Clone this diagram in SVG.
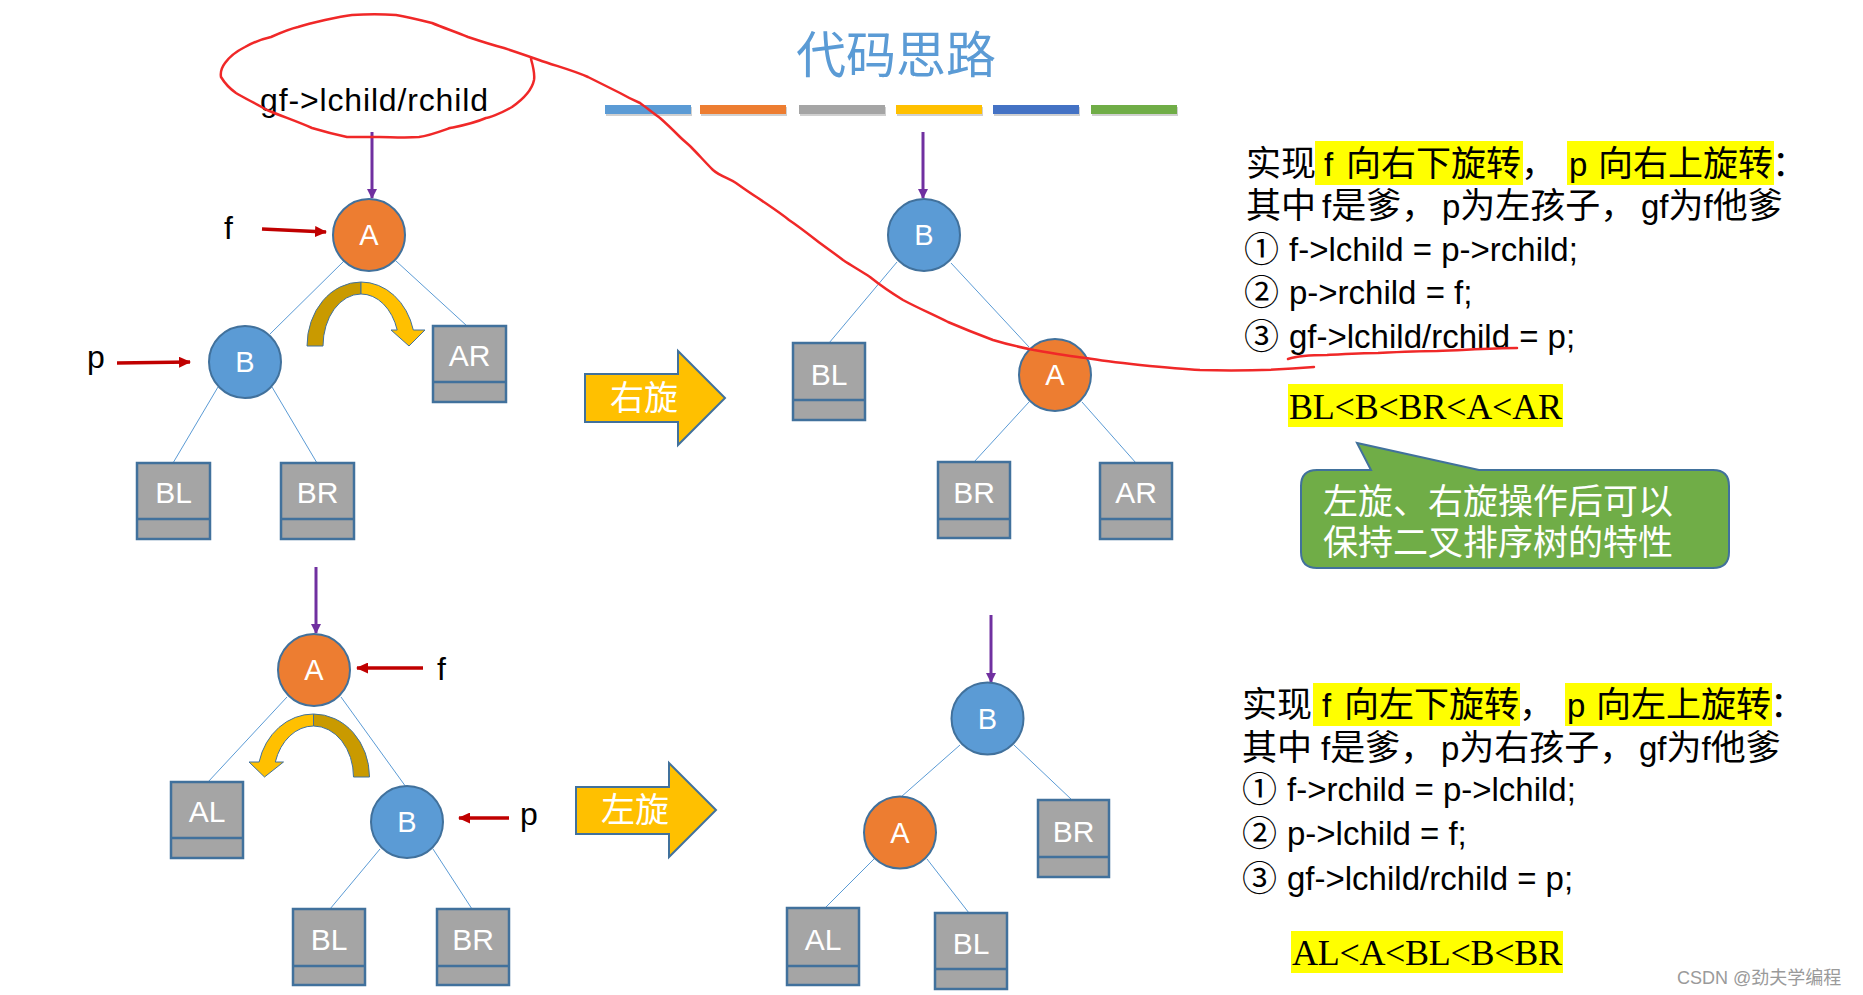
<svg xmlns="http://www.w3.org/2000/svg" width="1863" height="995" viewBox="0 0 1863 995">
<defs>
<marker id="mp" markerWidth="10" markerHeight="10" refX="9" refY="5" orient="auto" markerUnits="userSpaceOnUse"><path d="M0,0 L10,5 L0,10 Z" fill="#7030A0"/></marker>
<marker id="mr" markerWidth="12" markerHeight="11" refX="11" refY="5.5" orient="auto" markerUnits="userSpaceOnUse"><path d="M0,0 L12,5.5 L0,11 Z" fill="#C00000"/></marker>
<style>
.circA{fill:#ED7D31;stroke:#41719C;stroke-width:2}
.circB{fill:#5B9BD5;stroke:#41719C;stroke-width:2}
.box{fill:#A5A5A5;stroke:#41719C;stroke-width:2.5}
.nl{font-family:"Liberation Sans","Open Sans",sans-serif;fill:#fff;text-anchor:middle}
.edge{stroke:#5B9BD5;stroke-width:1;fill:none}
.pa{stroke:#7030A0;stroke-width:3;fill:none;marker-end:url(#mp)}
.ra{stroke:#C00000;stroke-width:3.5;fill:none;marker-end:url(#mr)}
.lab{font-family:"Liberation Sans",sans-serif;font-size:32px;fill:#000}
.tx{font-family:"Liberation Sans","Noto Sans CJK SC",sans-serif;font-size:33px;fill:#000}
.cj{font-family:"Noto Sans CJK SC",sans-serif;font-size:35px;fill:#000}
.hl{fill:#FFFF00}
.ser{font-family:"Liberation Serif",serif;font-size:36px;fill:#000}
.dk{fill:#C99A00;stroke:#41719C;stroke-width:1}
.yl{fill:#FFC000;stroke:#41719C;stroke-width:1}
.bigarrow{fill:#FFC000;stroke:#41719C;stroke-width:2}
.red{stroke:#F02828;stroke-width:2.5;fill:none;stroke-linecap:round;stroke-linejoin:round}
</style>
</defs>
<rect width="1863" height="995" fill="#fff"/>

<!-- title -->
<g id="title">
<text x="896" y="73" font-family="Noto Sans CJK SC,sans-serif" font-size="50" fill="#5B9BD5" text-anchor="middle">代码思路</text>
<g fill="#d0d0d0"><rect x="606" y="107" width="86" height="9"/><rect x="701" y="107" width="86" height="9"/><rect x="800" y="107" width="86" height="9"/><rect x="897" y="107" width="86" height="9"/><rect x="994" y="107" width="86" height="9"/><rect x="1092" y="107" width="86" height="9"/></g>
<rect x="605" y="105" width="86" height="9" fill="#5B9BD5"/>
<rect x="700" y="105" width="86" height="9" fill="#ED7D31"/>
<rect x="799" y="105" width="86" height="9" fill="#A5A5A5"/>
<rect x="896" y="105" width="86" height="9" fill="#FFC000"/>
<rect x="993" y="105" width="86" height="9" fill="#4472C4"/>
<rect x="1091" y="105" width="86" height="9" fill="#70AD47"/>
</g>

<!-- connectors -->
<g id="connectors">
<line class="edge" x1="345" y1="260" x2="270" y2="334"/>
<line class="edge" x1="396" y1="261" x2="467" y2="326"/>
<line class="edge" x1="218" y1="387" x2="173" y2="463"/>
<line class="edge" x1="272" y1="387" x2="317" y2="463"/>
<line class="edge" x1="897" y1="262" x2="829" y2="343"/>
<line class="edge" x1="951" y1="263" x2="1029" y2="347"/>
<line class="edge" x1="1029" y1="402" x2="974" y2="462"/>
<line class="edge" x1="1082" y1="402" x2="1136" y2="463"/>
<line class="edge" x1="287" y1="697" x2="208" y2="782"/>
<line class="edge" x1="341" y1="697" x2="406" y2="787"/>
<line class="edge" x1="380" y1="849" x2="330" y2="909"/>
<line class="edge" x1="433" y1="849" x2="472" y2="909"/>
<line class="edge" x1="960" y1="745" x2="901" y2="797"/>
<line class="edge" x1="1014" y1="745" x2="1072" y2="800"/>
<line class="edge" x1="874" y1="859" x2="825" y2="908"/>
<line class="edge" x1="927" y1="859" x2="969" y2="913"/>
<line class="pa" x1="372" y1="132" x2="372" y2="198"/>
<line class="pa" x1="923" y1="132" x2="923" y2="198"/>
<line class="pa" x1="316" y1="567" x2="316" y2="633"/>
<line class="pa" x1="991" y1="615" x2="991" y2="682"/>
<line class="ra" x1="262" y1="229" x2="326" y2="232"/>
<line class="ra" x1="117" y1="363" x2="190" y2="362"/>
<line class="ra" x1="423" y1="668" x2="357" y2="668"/>
<line class="ra" x1="509" y1="818" x2="459" y2="818"/>
</g>

<!-- curved rotation arrows -->
<g id="curl-right">
<path class="dk" d="M307 346 A54 64 0 0 1 361 282 L361 294 A38 52 0 0 0 323 346 Z"/>
<path class="yl" d="M361 282 A54 64 0 0 1 413.3 330 L425 330 L409 346 L391 330 L397.2 330 A38 52 0 0 0 361 294 Z"/>
</g>
<g id="curl-left">
<path class="dk" d="M369.5 777 A56 63 0 0 0 313.5 714 L313.5 726 A40 51 0 0 1 353.5 777 Z"/>
<path class="yl" d="M313.5 714 A56 63 0 0 0 259.1 762 L249 762 L264.5 777 L283.5 762 L275.3 762 A40 51 0 0 1 313.5 726 Z"/>
</g>

<!-- top-left tree -->
<g id="gf-label"><text class="lab" x="260" y="111" textLength="228">gf-&gt;lchild/rchild</text></g>
<g id="f-label-1"><text class="lab" x="224" y="239">f</text></g>
<g id="p-label-1"><text class="lab" x="87" y="368">p</text></g>
<g id="n1-A"><circle class="circA" cx="369" cy="235" r="36"/><text class="nl" x="369" y="245" font-size="29">A</text></g>
<g id="n1-B"><circle class="circB" cx="245" cy="362" r="36"/><text class="nl" x="245" y="372" font-size="29">B</text></g>
<g id="n1-AR"><rect class="box" x="433" y="326" width="73" height="76"/><line x1="433" y1="382" x2="506" y2="382" stroke="#41719C" stroke-width="2.5"/><text class="nl" x="469.5" y="366" font-size="30">AR</text></g>
<g id="n1-BL"><rect class="box" x="137" y="463" width="73" height="76"/><line x1="137" y1="519" x2="210" y2="519" stroke="#41719C" stroke-width="2.5"/><text class="nl" x="173.5" y="503" font-size="30">BL</text></g>
<g id="n1-BR"><rect class="box" x="281" y="463" width="73" height="76"/><line x1="281" y1="519" x2="354" y2="519" stroke="#41719C" stroke-width="2.5"/><text class="nl" x="317.5" y="503" font-size="30">BR</text></g>

<!-- right rotate arrow -->
<g id="rotate-right"><path class="bigarrow" d="M585 374 L678 374 L678 351 L725 398 L678 445 L678 422 L585 422 Z"/><text x="644" y="410" font-family="Noto Sans CJK SC,sans-serif" font-size="34" fill="#fff" text-anchor="middle">右旋</text></g>

<!-- top-right tree -->
<g id="n2-B"><circle class="circB" cx="924" cy="235" r="36"/><text class="nl" x="924" y="245" font-size="29">B</text></g>
<g id="n2-BL"><rect class="box" x="793" y="343" width="72" height="77"/><line x1="793" y1="400" x2="865" y2="400" stroke="#41719C" stroke-width="2.5"/><text class="nl" x="829" y="385" font-size="30">BL</text></g>
<g id="n2-A"><circle class="circA" cx="1055" cy="375" r="36"/><text class="nl" x="1055" y="385" font-size="29">A</text></g>
<g id="n2-BR"><rect class="box" x="938" y="462" width="72" height="76"/><line x1="938" y1="519" x2="1010" y2="519" stroke="#41719C" stroke-width="2.5"/><text class="nl" x="974" y="503" font-size="30">BR</text></g>
<g id="n2-AR"><rect class="box" x="1100" y="463" width="72" height="76"/><line x1="1100" y1="519" x2="1172" y2="519" stroke="#41719C" stroke-width="2.5"/><text class="nl" x="1136" y="503" font-size="30">AR</text></g>

<!-- bottom-left tree -->
<g id="f-label-2"><text class="lab" x="437" y="680">f</text></g>
<g id="p-label-2"><text class="lab" x="520" y="825">p</text></g>
<g id="n3-A"><circle class="circA" cx="314" cy="670" r="36"/><text class="nl" x="314" y="680" font-size="29">A</text></g>
<g id="n3-AL"><rect class="box" x="171" y="782" width="72" height="76"/><line x1="171" y1="838" x2="243" y2="838" stroke="#41719C" stroke-width="2.5"/><text class="nl" x="207" y="822" font-size="30">AL</text></g>
<g id="n3-B"><circle class="circB" cx="407" cy="822" r="36"/><text class="nl" x="407" y="832" font-size="29">B</text></g>
<g id="n3-BL"><rect class="box" x="293" y="909" width="72" height="76"/><line x1="293" y1="966" x2="365" y2="966" stroke="#41719C" stroke-width="2.5"/><text class="nl" x="329" y="950" font-size="30">BL</text></g>
<g id="n3-BR"><rect class="box" x="437" y="909" width="72" height="76"/><line x1="437" y1="966" x2="509" y2="966" stroke="#41719C" stroke-width="2.5"/><text class="nl" x="473" y="950" font-size="30">BR</text></g>

<!-- left rotate arrow -->
<g id="rotate-left"><path class="bigarrow" d="M576 787 L669 787 L669 763 L716 810 L669 857 L669 834 L576 834 Z"/><text x="635" y="822" font-family="Noto Sans CJK SC,sans-serif" font-size="34" fill="#fff" text-anchor="middle">左旋</text></g>

<!-- bottom-right tree -->
<g id="n4-B"><circle class="circB" cx="987.5" cy="718.5" r="36"/><text class="nl" x="987.5" y="728.5" font-size="29">B</text></g>
<g id="n4-A"><circle class="circA" cx="900" cy="832.5" r="36"/><text class="nl" x="900" y="842.5" font-size="29">A</text></g>
<g id="n4-BR"><rect class="box" x="1038" y="800" width="71" height="77"/><line x1="1038" y1="857" x2="1109" y2="857" stroke="#41719C" stroke-width="2.5"/><text class="nl" x="1073.5" y="842" font-size="30">BR</text></g>
<g id="n4-AL"><rect class="box" x="787" y="908" width="72" height="77"/><line x1="787" y1="966" x2="859" y2="966" stroke="#41719C" stroke-width="2.5"/><text class="nl" x="823" y="950" font-size="30">AL</text></g>
<g id="n4-BL"><rect class="box" x="935" y="913" width="72" height="76"/><line x1="935" y1="969" x2="1007" y2="969" stroke="#41719C" stroke-width="2.5"/><text class="nl" x="971" y="954" font-size="30">BL</text></g>

<!-- right text block top -->
<g id="text-top">
<rect class="hl" x="1315" y="141" width="208" height="44"/>
<rect class="hl" x="1567" y="141" width="207" height="44"/>
<text class="cj" x="1246" y="176">实现</text>
<text class="tx" x="1324" y="176">f</text>
<text class="cj" x="1346" y="176">向右下旋转</text>
<text class="cj" x="1521" y="176">，</text>
<text class="tx" x="1569" y="176">p</text>
<text class="cj" x="1598" y="176">向右上旋转</text>
<text class="cj" x="1772" y="176">：</text>
<text class="cj" x="1246" y="218">其中</text>
<text class="tx" x="1322" y="218">f<tspan class="cj">是爹，</tspan></text>
<text class="tx" x="1442" y="218">p<tspan class="cj">为左孩子，</tspan></text>
<text class="tx" x="1641" y="218">gf<tspan class="cj">为</tspan>f<tspan class="cj">他爹</tspan></text>
<text class="cj" x="1244" y="262">①</text><text class="tx" x="1289" y="261">f-&gt;lchild = p-&gt;rchild;</text>
<text class="cj" x="1244" y="305">②</text><text class="tx" x="1289" y="304">p-&gt;rchild = f;</text>
<text class="cj" x="1244" y="349">③</text><text class="tx" x="1289" y="348">gf-&gt;lchild/rchild = p;</text>
<rect class="hl" x="1288" y="384" width="275" height="43"/>
<text class="ser" x="1289" y="419" textLength="273">BL&lt;B&lt;BR&lt;A&lt;AR</text>
</g>

<!-- callout -->
<g id="callout">
<path d="M1317 470 L1371 470 L1357 443 L1479 470 L1713 470 Q1729 470 1729 486 L1729 552 Q1729 568 1713 568 L1317 568 Q1301 568 1301 552 L1301 486 Q1301 470 1317 470 Z" fill="#70AD47" stroke="#41719C" stroke-width="2"/>
<text x="1323" y="514" font-family="Noto Sans CJK SC,sans-serif" font-size="35" fill="#fff">左旋、右旋操作后可以</text>
<text x="1323" y="555" font-family="Noto Sans CJK SC,sans-serif" font-size="35" fill="#fff">保持二叉排序树的特性</text>
</g>

<!-- right text block bottom -->
<g id="text-bottom">
<rect class="hl" x="1313" y="683" width="207" height="43"/>
<rect class="hl" x="1565" y="683" width="207" height="43"/>
<text class="cj" x="1242" y="717">实现</text>
<text class="tx" x="1322" y="717">f</text>
<text class="cj" x="1344" y="717">向左下旋转</text>
<text class="cj" x="1519" y="717">，</text>
<text class="tx" x="1567" y="717">p</text>
<text class="cj" x="1596" y="717">向左上旋转</text>
<text class="cj" x="1770" y="717">：</text>
<text class="cj" x="1242" y="760">其中</text>
<text class="tx" x="1321" y="760">f<tspan class="cj">是爹，</tspan></text>
<text class="tx" x="1441" y="760">p<tspan class="cj">为右孩子，</tspan></text>
<text class="tx" x="1639" y="760">gf<tspan class="cj">为</tspan>f<tspan class="cj">他爹</tspan></text>
<text class="cj" x="1242" y="802">①</text><text class="tx" x="1287" y="801">f-&gt;rchild = p-&gt;lchild;</text>
<text class="cj" x="1242" y="846">②</text><text class="tx" x="1287" y="845">p-&gt;lchild = f;</text>
<text class="cj" x="1242" y="891">③</text><text class="tx" x="1287" y="890">gf-&gt;lchild/rchild = p;</text>
<rect class="hl" x="1291" y="931" width="272" height="42"/>
<text class="ser" x="1292" y="965" textLength="270">AL&lt;A&lt;BL&lt;B&lt;BR</text>
</g>

<!-- red hand-drawn annotation -->
<g id="annotation">
<path class="red" d="M531 59 C533 66 535 74 534 80 C532 90 522 100 512 107 C500 114 488 118 486 118 C472 124 460 126 450 128 C436 133 428 136 419 137 C405 138 390 137 379 137 C368 137 356 137 347 137 C333 134 322 131 312 128 C296 121 281 116 267 110 C255 103 244 98 236 93 C229 88 224 82 221 77 C220 71 222 67 225 63 C230 56 237 51 245 47 C254 42 262 39 271 37 C280 33 289 29 298 27 C307 24 316 22 325 20 C334 18 343 16 352 15 C367 14 382 14 396 15 C408 17 420 20 432 23 C444 28 456 32 468 37 C480 41 492 45 504 48 C516 52 528 56 539 60 C556 66 572 70 588 77 C600 83 610 88 620 93 C627 97 633 100 640 103 C647 108 653 113 660 118 C667 124 674 131 680 137 C684 141 687 143 691 147 C698 154 705 162 713 170 C720 176 728 178 736 183 C743 188 750 193 758 198 C768 205 779 212 789 220 C798 226 807 233 816 240 C825 247 834 253 843 260 C852 266 861 271 870 277 C880 285 890 292 903 300 C918 308 932 314 948 322 C962 328 977 334 993 340 C1006 344 1019 347 1034 350 C1051 353 1068 356 1086 358 C1104 361 1122 363 1140 365 C1160 367 1180 369 1200 370 C1240 371 1280 370 1314 367"/>
<path class="red" d="M1288 359 C1300 355 1314 355 1327 355 C1345 354 1362 353 1378 353 C1398 352 1418 351 1437 351 C1465 350 1492 348 1517 348"/>
</g>

<g id="watermark"><text x="1677" y="984" font-family="Liberation Sans,Noto Sans CJK SC,sans-serif" font-size="18" fill="#9a9a9a">CSDN @劲夫学编程</text></g>
</svg>
